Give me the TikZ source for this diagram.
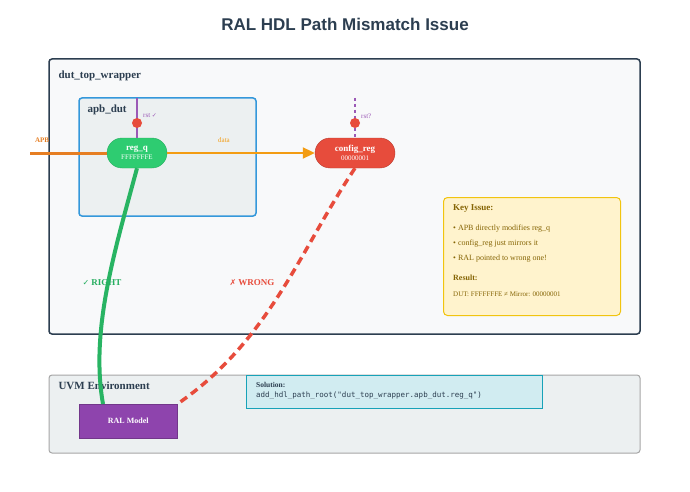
\documentclass[tikz,border=0pt]{standalone}
\usepackage{fontspec}
\setmainfont{Liberation Serif}
\newfontfamily\sansf{Liberation Sans}
\newfontfamily\monof{DejaVu Sans Mono}
\newfontfamily\symf{DejaVu Sans}
\usetikzlibrary{arrows.meta}
\definecolor{dark}{HTML}{2C3E50}
\definecolor{blu}{HTML}{3498DB}
\definecolor{grn}{HTML}{2ECC71}
\definecolor{grnd}{HTML}{27AE60}
\definecolor{rd}{HTML}{E74C3C}
\definecolor{org}{HTML}{E67E22}
\definecolor{yel}{HTML}{F39C12}
\definecolor{pur}{HTML}{8E44AD}
\definecolor{pl}{HTML}{9B59B6}
\definecolor{brn}{HTML}{856404}
\definecolor{kifill}{HTML}{FFF3CD}
\definecolor{kidraw}{HTML}{F1C40F}
\definecolor{sofill}{HTML}{D1ECF1}
\definecolor{sodraw}{HTML}{17A2B8}
\definecolor{bg}{HTML}{F8F9FA}
\definecolor{bg2}{HTML}{ECF0F1}
\tikzset{
 box/.style={rounded corners=3pt,line width=1.5pt},
 reg/.style={rounded corners=15pt,minimum height=30pt,text=white,align=center,font=\bfseries\fontsize{9}{10}\selectfont,inner sep=0pt},
 lbl/.style={anchor=west,font=\bfseries\fontsize{11}{12}\selectfont,text=dark},
 dot/.style={circle,fill=rd,minimum size=10pt,inner sep=0pt},
}
\begin{document}
\begin{tikzpicture}[x=1pt,y=-1pt]
\useasboundingbox[fill=white] (0,0) rectangle (690,492);
\node (title) at (345,24) {\sansf\bfseries\fontsize{17}{20}\selectfont\color{dark}RAL HDL Path Mismatch Issue};
\draw[box,draw=dark,fill=bg] (49,59) rectangle (640,334);
\node[lbl] (tw) at (55,76) {dut\_top\_wrapper};
\draw[box,draw=blu,fill=bg2] (79,98) rectangle (256,216);
\node[lbl] (ad) at (84,110) {apb\_dut};
\draw[box,draw=gray!70,fill=bg2,line width=1pt] (49,375) rectangle (640,453);
\node[lbl] (uvm) at (55,386) {UVM Environment};
\node[reg,fill=grn,draw=grnd,minimum width=60pt] (rq) at (137,153) {reg\_q\\[-1pt]{\mdseries\fontsize{7}{8}\selectfont FFFFFFFE}};
\node[reg,fill=rd,draw=rd!80!black,minimum width=80pt] (cr) at (355,153) {config\_reg\\[-1pt]{\mdseries\fontsize{7}{8}\selectfont 00000001}};
\coordinate (apbs) at (30,153);
\draw[org,line width=3pt] (apbs) -- (rq.west);
\node[text=org,font=\bfseries\fontsize{7}{8}\selectfont] (apbl) at (42,140) {APB};
\draw[yel,line width=2pt,-{Triangle[length=12pt,width=11pt]}] (rq.east) -- (cr.west);
\node[text=yel,font=\fontsize{7}{8}\selectfont] (dl) at (224,140) {data};
\coordinate (rt1) at (137,98);
\coordinate (rt2) at (355,98);
\draw[pl,line width=1.5pt] (rt1) -- (rq.north);
\draw[pl,line width=1.5pt,dashed,dash pattern=on 3pt off 3pt] (rt2) -- (cr.north);
\node[dot] (d1) at (137,123) {};
\node[dot] (d2) at (355,123) {};
\node[anchor=west,text=pl,font=\fontsize{7}{8}\selectfont,inner sep=0pt] (r1) at (143,116) {rst {\symf\fontsize{6}{7}\selectfont ✓}};
\node[anchor=west,text=pl,font=\fontsize{7}{8}\selectfont,inner sep=0pt] (r2) at (361,116) {rst?};
\node[draw=kidraw,fill=kifill,rounded corners=4pt,line width=1pt,minimum width=177pt,minimum height=118pt,anchor=north west] (ki) at (443,197) {};
\begin{scope}[every node/.style={anchor=west,text=brn,inner sep=0pt,font=\fontsize{8}{9}\selectfont}]
\node[font=\bfseries\fontsize{9}{10}\selectfont] (k1) at (453,209) {Key Issue:};
\node (k2) at (453,229) {• APB directly modifies reg\_q};
\node (k3) at (453,244) {• config\_reg just mirrors it};
\node (k4) at (453,259) {• RAL pointed to wrong one!};
\node[font=\bfseries\fontsize{8}{9}\selectfont] (k5) at (453,278) {Result:};
\node[font=\fontsize{7}{8}\selectfont] (k6) at (453,294) {DUT: FFFFFFFE ≠ Mirror: 00000001};
\end{scope}
\node[draw=pur!80!black,fill=pur,minimum width=98pt,minimum height=34pt,anchor=north west,text=white,font=\bfseries\fontsize{8}{9}\selectfont] (ral) at (79,404) {RAL Model};
\node[draw=sodraw,fill=sofill,line width=1pt,minimum width=296pt,minimum height=33pt,anchor=north west] (sol) at (246,375) {};
\node[anchor=west,inner sep=0pt,font=\bfseries\fontsize{7.5}{8}\selectfont,text=dark] (s1) at (256,385) {Solution:};
\node[anchor=west,inner sep=0pt,font=\monof\fontsize{7.5}{8}\selectfont,text=dark] (s2) at (256,396) {add\_hdl\_path\_root("dut\_top\_wrapper.apb\_dut.reg\_q")};
\draw[grnd!80!grn,line width=4pt] (rq.south) .. controls (115,250) and (90,330) .. (ral.north west -| 103,404);
\draw[rd,line width=3.5pt,dash pattern=on 8pt off 5pt] (cr.south) .. controls (300,250) and (270,340) .. (ral.north east);
\node[text=grnd,font=\bfseries\fontsize{9}{10}\selectfont] (rt) at (102,283) {{\symf\fontsize{8}{9}\selectfont ✓} RIGHT};
\node[text=rd,font=\bfseries\fontsize{9}{10}\selectfont] (wr) at (252,283) {{\symf\fontsize{8}{9}\selectfont ✗} WRONG};
\end{tikzpicture}
\end{document}
